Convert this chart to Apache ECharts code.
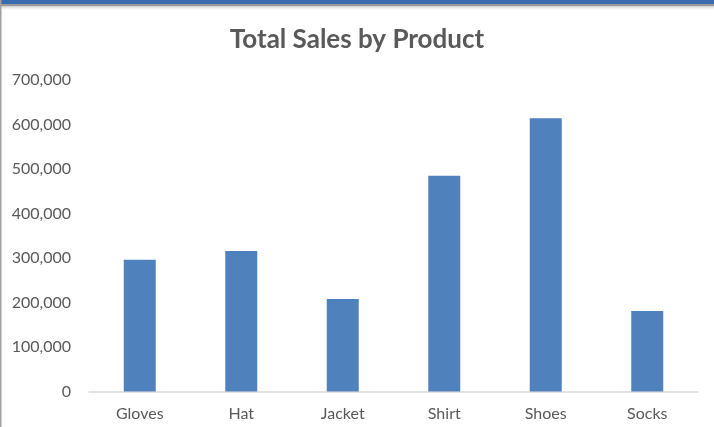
<!DOCTYPE html>
<html>
<head>
<meta charset="utf-8">
<script src="https://cdn.jsdelivr.net/npm/echarts@6/dist/echarts.min.js"></script>
<style>
  html, body { margin: 0; padding: 0; background: #fff; }
  #chart { width: 714px; height: 427px; }
</style>
</head>
<body>
<div id="chart"></div>
<script>
  let products = ['Gloves', 'Hat', 'Jacket', 'Shirt', 'Shoes', 'Socks'];
  let sales = [296000, 316000, 208000, 485000, 614000, 181000];
  let yTicks = [0, 100000, 200000, 300000, 400000, 500000, 600000, 700000];

  let fmt = v => v.toLocaleString('en-US');
  let font = 'Lato, "Open Sans", sans-serif';

  let myChart = echarts.init(document.getElementById('chart'));
  let option = {
    backgroundColor: '#fff',
    animation: false,
    title: {
      text: 'Total Sales by Product',
      left: 'center',
      top: 22,
      textStyle: { color: '#595959', fontSize: 26, fontWeight: 'bold', fontFamily: font }
    },
    grid: { left: 89, right: 16, top: 80, bottom: 35.5, containLabel: false },
    xAxis: {
      type: 'category',
      data: products,
      axisLine: { lineStyle: { color: '#d9d9d9', width: 1.5 } },
      axisTick: { show: false },
      axisLabel: { color: '#595959', fontSize: 16, fontFamily: font, margin: 14 }
    },
    yAxis: {
      type: 'value',
      min: yTicks[0],
      max: yTicks[yTicks.length - 1],
      interval: yTicks[1] - yTicks[0],
      axisLine: { show: false },
      axisTick: { show: false },
      splitLine: { show: false },
      axisLabel: { color: '#595959', fontSize: 16, fontFamily: font, margin: 18, formatter: fmt }
    },
    series: [{
      name: 'Total Sales',
      type: 'bar',
      data: sales,
      barWidth: 32,
      itemStyle: { color: '#4f81bd' }
    }],
    graphic: [
      // window frame bits seen in the screenshot
      { type: 'rect', left: 0, top: 0, shape: { width: 714, height: 4 }, style: { fill: '#3a6ab0' }, z: 10 },
      { type: 'rect', left: 0, top: 4, shape: { width: 714, height: 2 }, style: { fill: '#9a9a9a' }, z: 10 },
      { type: 'rect', left: 0, top: 6, shape: { width: 714, height: 5 },
        style: { fill: new echarts.graphic.LinearGradient(0, 0, 0, 1, [
          { offset: 0, color: 'rgba(150,150,150,0.5)' }, { offset: 1, color: 'rgba(255,255,255,0)' }]) }, z: 10 },
      { type: 'rect', left: 0, top: 0, shape: { width: 1.5, height: 427 }, style: { fill: '#a0a0a0' }, z: 11 }
    ]
  };
  myChart.setOption(option);
</script>
</body>
</html>
